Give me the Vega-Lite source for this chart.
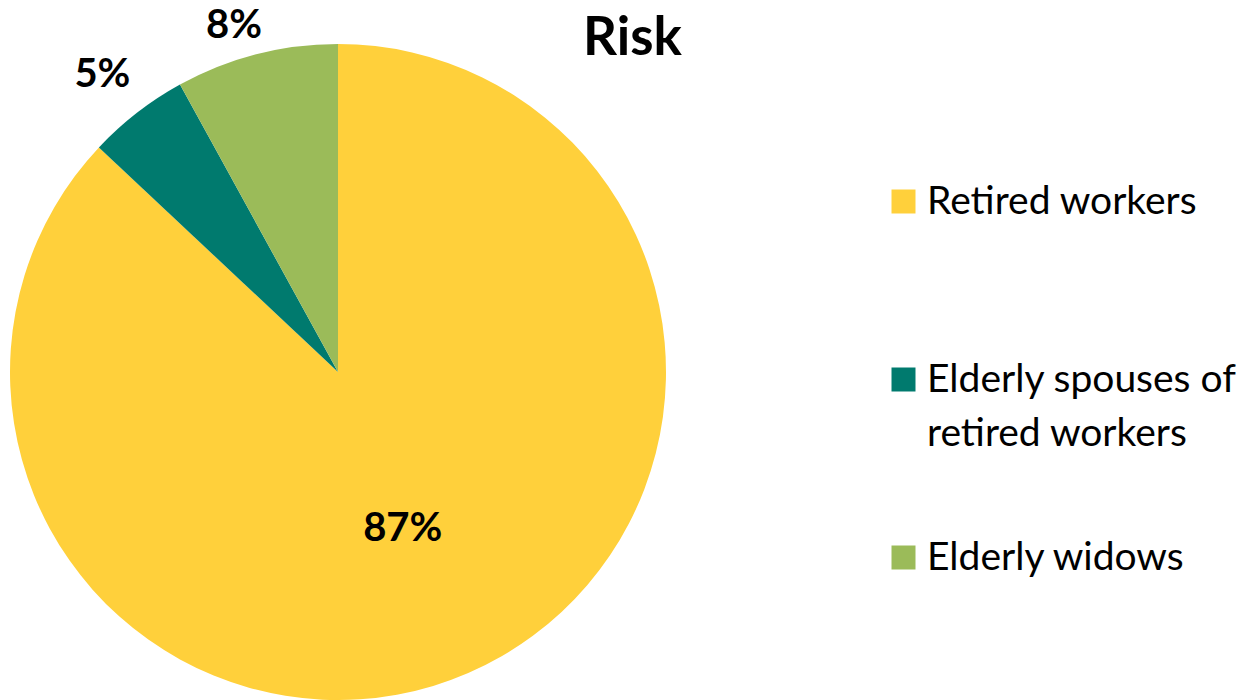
{
  "$schema": "https://vega.github.io/schema/vega-lite/v6.json",
  "width": 656,
  "height": 656,
  "autosize": {"type": "none"},
  "padding": {"left": 10, "top": 44, "right": 578, "bottom": 0},
  "background": "white",
  "title": {
    "text": "Risk",
    "anchor": "start",
    "frame": "group",
    "dx": 573,
    "offset": -121,
    "baseline": "alphabetic",
    "font": "Lato",
    "fontSize": 53,
    "fontWeight": "bold",
    "color": "black"
  },
  "data": {
    "values": [
      {"cat": "Retired workers", "share": 0.87, "rank": 1},
      {"cat": "Elderly spouses of retired workers", "share": 0.05, "rank": 2},
      {"cat": "Elderly widows", "share": 0.08, "rank": 3}
    ]
  },
  "encoding": {
    "theta": {"field": "share", "type": "quantitative", "stack": true},
    "order": {"field": "rank", "type": "quantitative"},
    "color": {
      "field": "cat",
      "type": "nominal",
      "scale": {
        "domain": ["Retired workers", "Elderly spouses of retired workers", "Elderly widows"],
        "range": ["#FFD03B", "#007A6E", "#9BBB59"]
      },
      "legend": {
        "title": null,
        "orient": "none",
        "legendX": 874,
        "legendY": 138,
        "padding": 0,
        "gridAlign": "all",
        "symbolType": "square",
        "symbolSize": 576,
        "symbolStrokeWidth": 0,
        "labelFont": "Lato",
        "labelFontSize": 39,
        "labelColor": "black",
        "labelLimit": 500,
        "labelOffset": 4,
        "rowPadding": 84,
        "labelExpr": "datum.label == 'Elderly spouses of retired workers' ? ['Elderly spouses of', 'retired workers'] : datum.label",
        "encoding": {
          "labels": {
            "lineHeight": {"value": 54}
          }
        }
      }
    }
  },
  "layer": [
    {"mark": {"type": "arc", "outerRadius": 328}},
    {
      "mark": {"type": "text", "font": "Lato", "fontSize": 40, "fontWeight": "bold", "color": "black", "dx": -2, "dy": 2.5},
      "encoding": {
        "radius": {"value": 168},
        "text": {"condition": {"test": "datum.cat == 'Retired workers'", "field": "share", "type": "quantitative", "format": ".0%"}, "value": ""},
        "color": {"value": "black"}
      }
    },
    {
      "mark": {"type": "text", "font": "Lato", "fontSize": 40, "fontWeight": "bold", "color": "black", "dx": -1.5, "dy": 4.5},
      "encoding": {
        "radius": {"value": 382},
        "text": {"condition": {"test": "datum.cat == 'Elderly spouses of retired workers'", "field": "share", "type": "quantitative", "format": ".0%"}, "value": ""},
        "color": {"value": "black"}
      }
    },
    {
      "mark": {"type": "text", "font": "Lato", "fontSize": 40, "fontWeight": "bold", "color": "black", "dx": -14.5, "dy": 3},
      "encoding": {
        "radius": {"value": 360},
        "text": {"condition": {"test": "datum.cat == 'Elderly widows'", "field": "share", "type": "quantitative", "format": ".0%"}, "value": ""},
        "color": {"value": "black"}
      }
    }
  ]
}
